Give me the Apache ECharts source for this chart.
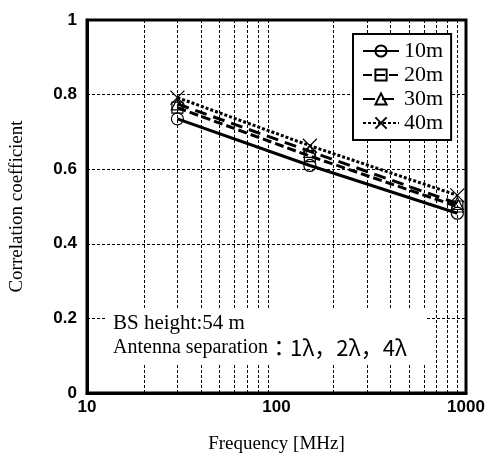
<!DOCTYPE html>
<html>
<head>
<meta charset="utf-8">
<script src="https://cdn.jsdelivr.net/npm/echarts@6/dist/echarts.min.js"></script>
<style>
  html, body { margin: 0; padding: 0; background: #fff; }
  #chart { width: 490px; height: 459px; }
</style>
</head>
<body>
<div id="chart"></div>
<script>
// frequencies (MHz)
var freqs = [30, 150, 900];
// correlation per mobile height
var s10 = [0.735, 0.61, 0.482];
var s20 = [0.765, 0.635, 0.50];
var s30 = [0.775, 0.648, 0.508];
var s40 = [0.792, 0.663, 0.53];
var names = ['10m', '20m', '30m', '40m'];
// minor log grid positions
var minorX = [20, 30, 40, 50, 60, 70, 80, 90, 200, 300, 400, 500, 600, 700, 800, 900];

var serif = 'Liberation Serif';
var sans = 'Liberation Sans';

function pairs(ys) {
    return freqs.map(function (f, i) { return [f, ys[i]]; });
}

var markStyle = { color: 'transparent', borderColor: '#000', borderWidth: 1.2 };

var chart = echarts.init(document.getElementById('chart'));
chart.setOption({
    animation: false,
    backgroundColor: '#fff',
    grid: {
        left: 84, right: 24, top: 20, bottom: 58,
        show: true,
        borderColor: '#000',
        borderWidth: 3
    },
    legend: {
        data: names,
        z: 50,
        orient: 'vertical',
        left: 353,
        top: 34,
        padding: [6, 8, 6, 9],
        itemWidth: 36,
        itemHeight: 14,
        itemGap: 2,
        backgroundColor: '#fff',
        borderColor: '#000',
        borderWidth: 2,
        borderRadius: 0,
        textStyle: { fontFamily: serif, fontSize: 22, color: '#000', lineHeight: 21 }
    },
    xAxis: {
        type: 'log',
        logBase: 10,
        min: 10,
        max: 1000,
        name: 'Frequency [MHz]',
        nameLocation: 'middle',
        nameGap: 42,
        nameTextStyle: { fontFamily: serif, fontSize: 19, color: '#000' },
        axisLine: { lineStyle: { color: '#000', width: 3 } },
        axisTick: { show: false },
        axisLabel: {
            fontFamily: sans, fontSize: 17, fontWeight: 'bold', color: '#000', margin: 6,
            formatter: function (v) { return String(v); }
        },
        splitLine: { show: false }
    },
    yAxis: {
        type: 'value',
        min: 0,
        max: 1,
        interval: 0.2,
        name: 'Correlation coefficient',
        nameLocation: 'middle',
        nameGap: 60,
        nameRotate: 90,
        nameTextStyle: { fontFamily: serif, fontSize: 19, color: '#000' },
        axisLine: { lineStyle: { color: '#000', width: 3 } },
        axisTick: { show: false },
        axisLabel: { fontFamily: sans, fontSize: 17, fontWeight: 'bold', color: '#000', margin: 10 },
        splitLine: { lineStyle: { color: '#000', width: 1, type: [3, 2] } }
    },
    graphic: {
        z: 100,
        elements: [
            {
                type: 'rect',
                z: 100,
                shape: { x: 105, y: 310, width: 322, height: 55 },
                style: { fill: '#fff' }
            },
            {
                type: 'text',
                z: 101,
                left: 113,
                top: 313,
                style: { text: 'BS height:54 m', font: '21px "Liberation Serif"', fill: '#000' }
            },
            {
                type: 'text',
                z: 101,
                left: 113,
                top: 337,
                style: {
                    text: '{a|Antenna separation}{b|：1λ，2λ，4λ}',
                    rich: {
                        a: { fontFamily: serif, fontSize: 20, fill: '#000' },
                        b: { fontFamily: 'Noto Sans CJK JP', fontSize: 22, fill: '#000' }
                    }
                }
            }
        ]
    },
    series: [
        {
            name: 'grid',
            type: 'line',
            data: [],
            z: 1,
            markLine: {
                silent: true,
                symbol: 'none',
                label: { show: false },
                lineStyle: { color: '#000', width: 1, type: [3, 2] },
                data: minorX.map(function (v) { return { xAxis: v }; })
            }
        },
        {
            name: '10m', type: 'line', data: pairs(s10),
            symbol: 'circle', symbolSize: 12,
            itemStyle: markStyle,
            lineStyle: { color: '#000', width: 3, type: 'solid' }
        },
        {
            name: '20m', type: 'line', data: pairs(s20),
            symbol: 'rect', symbolSize: 11,
            itemStyle: markStyle,
            lineStyle: { color: '#000', width: 3, type: [9, 4] }
        },
        {
            name: '30m', type: 'line', data: pairs(s30),
            symbol: 'triangle', symbolSize: 12,
            itemStyle: markStyle,
            lineStyle: { color: '#000', width: 3, type: [12, 7] }
        },
        {
            name: '40m', type: 'line', data: pairs(s40),
            symbol: 'path://M0,0L10,10M10,0L0,10', symbolSize: 14,
            itemStyle: markStyle,
            lineStyle: { color: '#000', width: 3, type: [3, 2] }
        }
    ]
});
</script>
</body>
</html>
